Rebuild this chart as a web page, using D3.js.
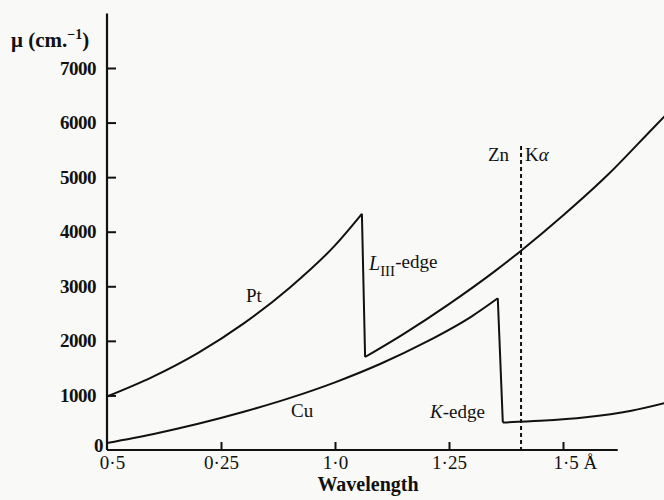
<!DOCTYPE html>
<html>
<head>
<meta charset="utf-8">
<script src="https://cdn.jsdelivr.net/npm/d3@7"></script>
<style>
  body { margin: 0; background: #f9f9f7; }
  svg { display: block; }
  text { font-family: "Liberation Serif", "DejaVu Serif", serif; fill: #111; }
</style>
</head>
<body>
<div id="chart"></div>
<script>
const yTicks = [0, 1000, 2000, 3000, 4000, 5000, 6000, 7000];
const xTicks = [0.5, 0.75, 1.0, 1.25, 1.5];
const xTickLabels = ['0·5', '0·25', '1·0', '1·25', '1·5 Å'];

// [wavelength (Å), mu (cm^-1)]
const ptShort = [[0.5, 980], [0.6, 1340], [0.7, 1780], [0.8, 2320], [0.9, 2970], [1.0, 3750], [1.059, 4328]];
const ptLong = [[1.066, 1704], [1.15, 2124], [1.25, 2674], [1.35, 3274], [1.406, 3638], [1.5, 4296],
  [1.6, 5056], [1.7, 5920], [1.74, 6264]];
const cuShort = [[0.5, 130], [0.6, 290], [0.7, 480], [0.8, 700], [0.9, 950], [1.0, 1240], [1.1, 1580],
  [1.2, 1980], [1.3, 2450], [1.357, 2780]];
const cuLong = [[1.368, 505], [1.45, 535], [1.55, 600], [1.65, 720], [1.74, 895]];
const znKalpha = 1.408;

const width = 664, height = 500;
const svg = d3.select('#chart').append('svg')
  .attr('width', width)
  .attr('height', height);

const x = d3.scaleLinear().domain([0.5, 1.5]).range([107, 563]);
const y = d3.scaleLinear().domain([0, 7000]).range([450, 68]);

const ink = '#111';

// axes
const yAxis = d3.axisLeft(y)
  .tickValues(yTicks)
  .tickSizeInner(-9)
  .tickSizeOuter(0)
  .tickPadding(11)
  .tickFormat(d => d);
const gy = svg.append('g').attr('transform', `translate(${x(0.5)},0)`).call(yAxis);
gy.select('.domain').remove();
gy.selectAll('line').attr('stroke', ink).attr('stroke-width', 2);
gy.selectAll('.tick').filter(d => d === 0).select('line').remove();
gy.selectAll('text')
  .attr('font-family', '"Liberation Serif", serif')
  .attr('font-size', 19)
  .attr('font-weight', 'bold')
  .attr('letter-spacing', -0.5)
  .attr('fill', ink);
gy.selectAll('.tick').filter(d => d === 0).select('text').attr('dx', 7).attr('dy', '0.1em');

const xAxis = d3.axisBottom(x)
  .tickValues(xTicks)
  .tickSizeInner(-8)
  .tickSizeOuter(0)
  .tickPadding(6)
  .tickFormat((d, i) => xTickLabels[i]);
const gx = svg.append('g').attr('transform', `translate(0,${y(0)})`).call(xAxis);
gx.select('.domain').remove();
gx.selectAll('line').attr('stroke', ink).attr('stroke-width', 2);
gx.selectAll('.tick').filter(d => d === 0.5).select('line').remove();
gx.selectAll('text')
  .attr('font-family', '"Liberation Serif", serif')
  .attr('font-size', 19)
  .attr('fill', ink);
gx.selectAll('.tick').filter(d => d === 0.5).select('text').attr('dx', 5);
gx.selectAll('.tick').filter(d => d === 1.5).select('text')
  .attr('text-anchor', 'start')
  .attr('dx', -10);

svg.append('line')
  .attr('x1', x(0.5)).attr('x2', x(0.5))
  .attr('y1', y(0)).attr('y2', y(8000))
  .attr('stroke', ink).attr('stroke-width', 2.2);
svg.append('line')
  .attr('x1', x(0.5)).attr('x2', x(1.62))
  .attr('y1', y(0)).attr('y2', y(0))
  .attr('stroke', ink).attr('stroke-width', 2.2);

// curves
const smooth = d3.line().x(d => x(d[0])).y(d => y(d[1])).curve(d3.curveMonotoneX);
const straight = d3.line().x(d => x(d[0])).y(d => y(d[1]));

function drawEdgeSeries(shortSide, longSide) {
  svg.append('path').attr('d', smooth(shortSide))
    .attr('fill', 'none').attr('stroke', ink).attr('stroke-width', 2);
  svg.append('path').attr('d', straight([shortSide[shortSide.length - 1], longSide[0]]))
    .attr('fill', 'none').attr('stroke', ink).attr('stroke-width', 2);
  svg.append('path').attr('d', smooth(longSide))
    .attr('fill', 'none').attr('stroke', ink).attr('stroke-width', 2);
}
drawEdgeSeries(ptShort, ptLong);
drawEdgeSeries(cuShort, cuLong);

// Zn K-alpha marker
svg.append('line')
  .attr('x1', x(znKalpha)).attr('x2', x(znKalpha))
  .attr('y1', 146).attr('y2', y(0))
  .attr('stroke', ink).attr('stroke-width', 2)
  .attr('stroke-dasharray', '4,3');

// labels
svg.append('text').attr('x', 11).attr('y', 47)
  .attr('font-size', 21).attr('font-weight', 'bold')
  .html('μ (cm.<tspan dy="-8" font-size="14">−1</tspan><tspan dy="8">)</tspan>');

svg.append('text').attr('x', 488).attr('y', 161).attr('font-size', 19).text('Zn');
svg.append('text').attr('x', 525).attr('y', 161).attr('font-size', 19)
  .html('K<tspan font-style="italic">α</tspan>');

svg.append('text').attr('x', 246).attr('y', 302).attr('font-size', 19).text('Pt');
svg.append('text').attr('x', 291).attr('y', 417).attr('font-size', 19).text('Cu');

svg.append('text').attr('x', 369).attr('y', 270).attr('font-size', 20)
  .html('<tspan font-style="italic">L</tspan><tspan dy="6" font-size="15">III</tspan><tspan dy="-8" font-size="19">-edge</tspan>');
svg.append('text').attr('x', 430).attr('y', 418).attr('font-size', 19)
  .html('<tspan font-style="italic">K</tspan>-edge');

svg.append('text').attr('x', 368).attr('y', 491)
  .attr('text-anchor', 'middle').attr('font-size', 20).attr('font-weight', 'bold')
  .text('Wavelength');
</script>
</body>
</html>
